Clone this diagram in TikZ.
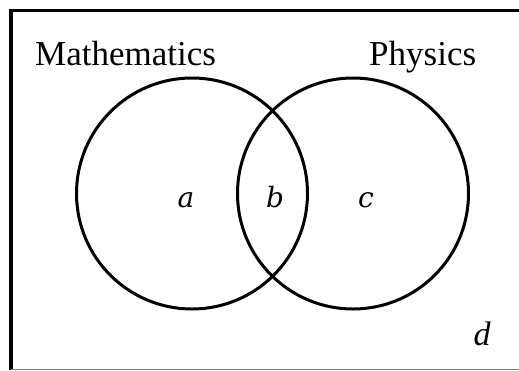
\documentclass[tikz,border=0pt]{standalone}
\usepackage{fontspec}
\setmainfont{Liberation Serif}
\newfontfamily\regionfont{DejaVu Serif}
\begin{document}
\begin{tikzpicture}[x=1pt,y=-1pt,
  setcircle/.style={draw=black,line width=3pt},
  biglabel/.style={inner sep=0pt,anchor=base west,font=\fontsize{35}{40}\selectfont},
  regionlabel/.style={inner sep=0pt,anchor=base,font=\regionfont\fontsize{28}{32}\selectfont\itshape},
  cornerlabel/.style={inner sep=0pt,anchor=base,font=\fontsize{34}{38}\selectfont\itshape}]
\useasboundingbox (0,0) rectangle (519,370);
% frame
\draw[line width=3.5pt] (11,370) -- (11,10.5) -- (519,10.5);
\draw[gray,line width=1pt] (11,369.5) -- (519,369.5);
% circles
\node[setcircle,circle,minimum size=231pt,inner sep=0pt] (math) at (192,193.5) {};
\node[setcircle,circle,minimum size=231pt,inner sep=0pt] (phys) at (353,193.5) {};
% labels
\node[biglabel] (mlabel) at (35,65) {Mathematics};
\node[biglabel] (plabel) at (369,65) {Physics};
\node[regionlabel] (ra) at (186,207) {a};
\node[regionlabel] (rb) at (275,207) {b};
\node[regionlabel] (rc) at (366,207) {c};
\node[cornerlabel] (rd) at (482,345) {d};
\end{tikzpicture}
\end{document}
